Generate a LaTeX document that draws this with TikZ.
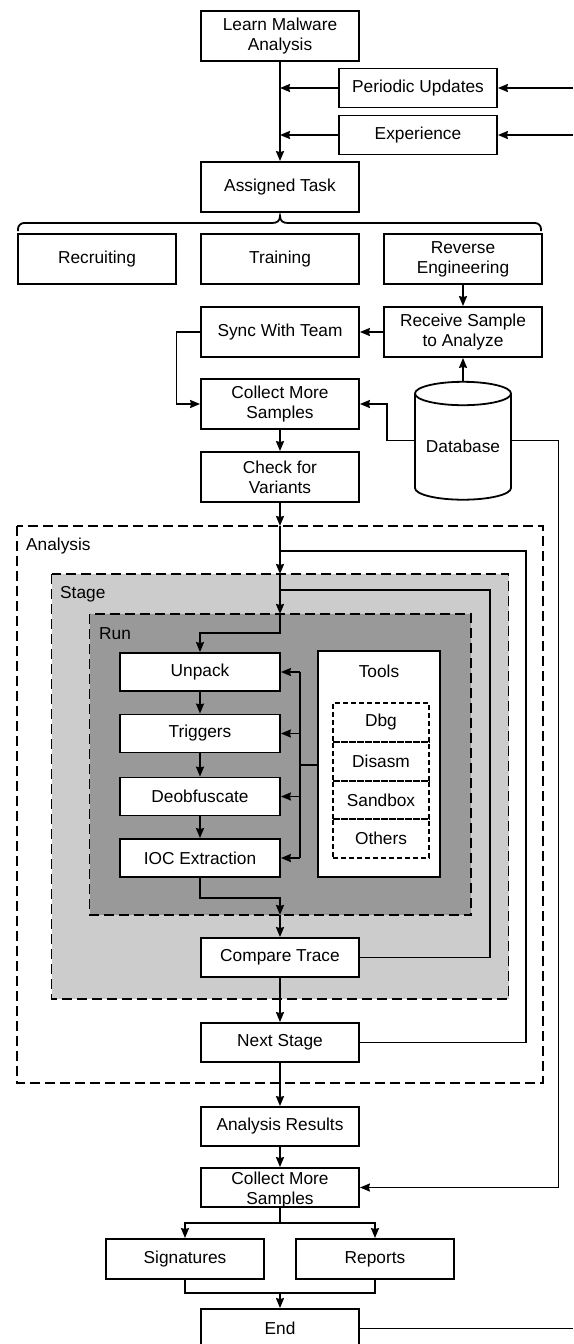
\documentclass[tikz,border=0pt]{standalone}
\usepackage{fontspec}
\setmainfont{Liberation Sans}
\usetikzlibrary{arrows.meta}
\definecolor{stagegray}{HTML}{CCCCCC}
\definecolor{rungray}{HTML}{999999}
\begin{document}
\begin{tikzpicture}[x=1pt,y=-1pt,
  lw/.style={line width=1.8pt},
  txt/.style={font=\fontsize{17.3}{20}\selectfont},
  box/.style={draw, lw, fill=white, inner sep=0pt, align=center, minimum width=158pt, txt},
  tallbox/.style={box, minimum height=50pt},
  flatbox/.style={box, minimum height=39pt},
  runbox/.style={box, minimum width=160pt, minimum height=38pt},
  toolbox/.style={draw, lw, dash pattern=on 5pt off 3pt, inner sep=0pt, minimum width=96pt, minimum height=38.7pt, txt},
  conn/.style={lw},
  arr/.style={lw, -{Stealth[length=10pt,width=8pt,inset=1pt]}},
  region/.style={draw, lw, dash pattern=on 10pt off 5pt},
  lbl/.style={anchor=west, inner sep=0pt, txt}]

\useasboundingbox (0,0) rectangle (573,1344);

% regions
\draw[region] (17,526) rectangle (543,1083);
\draw[region, fill=stagegray] (51.5,574) rectangle (508.5,999);
\draw[region, fill=rungray] (89.5,614) rectangle (471,915);
\node[lbl] (lanalysis) at (26,546) {Analysis};
\node[lbl] (lstage) at (60,594) {Stage};
\node[lbl] (lrun) at (99,634) {Run};

% top nodes
\node[tallbox] (lma) at (280,36) {Learn Malware\\Analysis};
\node[flatbox] (pu) at (418,88) {Periodic Updates};
\node[flatbox] (exp) at (418,135) {Experience};
\node[tallbox] (at) at (280,187) {Assigned Task};
\node[tallbox] (rec) at (97,259) {Recruiting};
\node[tallbox] (tra) at (280,259) {Training};
\node[tallbox] (re) at (463,259) {Reverse\\Engineering};
\node[tallbox] (rs) at (463,332) {Receive Sample\\to Analyze};
\node[tallbox] (sync) at (280,332) {Sync With Team};
\node[tallbox] (cms) at (280,404) {Collect More\\Samples};
\node[tallbox] (cfv) at (280,477) {Check for\\Variants};

% database cylinder
\draw[lw, fill=white] (415,393.5) -- (415,488)
  arc[start angle=180, end angle=360, x radius=48pt, y radius=11.7pt]
  -- (511,393.5);
\draw[lw, fill=white] (463,393.5) ellipse [x radius=48pt, y radius=11.7pt];
\node[inner sep=0pt, minimum width=96pt, minimum height=117pt] (db) at (463,440.5) {};
\node[txt] (dbl) at (463,446) {Database};

% run nodes
\node[runbox] (unp) at (200,672) {Unpack};
\node[runbox] (trg) at (200,733.5) {Triggers};
\node[runbox] (deo) at (200,796.5) {Deobfuscate};
\node[runbox] (ioc) at (200,858) {IOC Extraction};
\node[draw, lw, fill=white, inner sep=0pt, minimum width=122pt, minimum height=226pt] (tools) at (379,764) {};
\node[txt] (toolsl) at (379,671) {Tools};
\node[toolbox] (dbg) at (381,722.5) {Dbg};
\node[toolbox] (dis) at (381,761.5) {Disasm};
\node[toolbox] (sbx) at (381,800) {Sandbox};
\node[toolbox] (oth) at (381,838.5) {Others};

% lower nodes
\node[flatbox] (ct) at (280,957.5) {Compare Trace};
\node[flatbox] (ns) at (280,1042.5) {Next Stage};
\node[flatbox] (ar) at (280,1126.5) {Analysis Results};
\node[flatbox] (cms2) at (280,1187.5) {};
\node[txt, align=center, inner sep=0pt] (cms2l) at (280,1190) {Collect More\\Samples};
\node[box, minimum height=40pt] (sig) at (185,1259) {Signatures};
\node[box, minimum height=40pt] (rep) at (375,1259) {Reports};
\node[flatbox] (end) at (280,1328.5) {End};

% coordinates
\coordinate (puin) at (573,88);
\coordinate (expin) at (573,135);
\coordinate (atop) at (280,526);
\coordinate (stop) at (280,574);
\coordinate (rtop) at (280,614);
\coordinate (rbot) at (280,915);
\coordinate (j1) at (280,551);
\coordinate (j2) at (280,590);
\coordinate (bus) at (300,765);
\coordinate (split) at (280,1223);
\coordinate (merge) at (280,1293);
\coordinate (endout) at (573,1328.5);

% top connectors
\draw[arr] (lma.south) -- (at.north);
\draw[arr] (puin) -- (pu.east);
\draw[arr] (expin) -- (exp.east);
\draw[arr] (pu.west) -- (pu.west -| lma.south);
\draw[arr] (exp.west) -- (exp.west -| lma.south);

% brace
\draw[lw, rounded corners=6pt] (18,231) -- (18,223) -- (272,223);
\draw[lw] (272,223) .. controls (277,223) and (280,221) .. (280,216)
  .. controls (280,221) and (283,223) .. (288,223);
\draw[lw, rounded corners=6pt] (288,223) -- (541,223) -- (541,231);

\draw[arr] (re.south) -- (rs.north);
\draw[arr] (rs.west) -- (sync.east);
\draw[arr] (sync.west) -- (176.5,332) |- (cms.west);
\draw[arr] (db.north) -- (rs.south);
\draw[arr] (db.west) -- (387,440.5) |- (cms.east);
\draw[arr] (db.east) -- (558.5,440.5) |- (cms2.east);
\draw[arr] (cms.south) -- (cfv.north);

% analysis chain
\draw[arr] (cfv.south) -- (atop);
\draw[arr] (atop) -- (stop);
\draw[arr] (stop) -- (rtop);
\draw[arr] (rtop) -- (280,633) -| (unp.north);
\draw[conn] (ns.east) -| (526,551) -- (j1);
\draw[conn] (ct.east) -| (490,590) -- (j2);

\draw[arr] (unp.south) -- (trg.north);
\draw[arr] (trg.south) -- (deo.north);
\draw[arr] (deo.south) -- (ioc.north);

\draw[conn] (tools.west |- bus) -- (bus);
\draw[conn] (bus |- unp.east) -- (bus |- ioc.east);
\draw[arr] (bus |- unp.east) -- (unp.east);
\draw[arr] (bus |- trg.east) -- (trg.east);
\draw[arr] (bus |- deo.east) -- (deo.east);
\draw[arr] (bus |- ioc.east) -- (ioc.east);

\draw[arr] (ioc.south) -- (200,898) -| (rbot);
\draw[arr] (rbot) -- (ct.north);
\draw[arr] (ct.south) -- (ns.north);
\draw[arr] (ns.south) -- (ar.north);
\draw[arr] (ar.south) -- (cms2.north);

\draw[conn] (cms2.south) -- (split);
\draw[arr] (split) -| (sig.north);
\draw[arr] (split) -| (rep.north);
\draw[conn] (sig.south) |- (merge) -| (rep.south);
\draw[arr] (merge) -- (end.north);
\draw[conn] (end.east) -- (endout);
\end{tikzpicture}
\end{document}
